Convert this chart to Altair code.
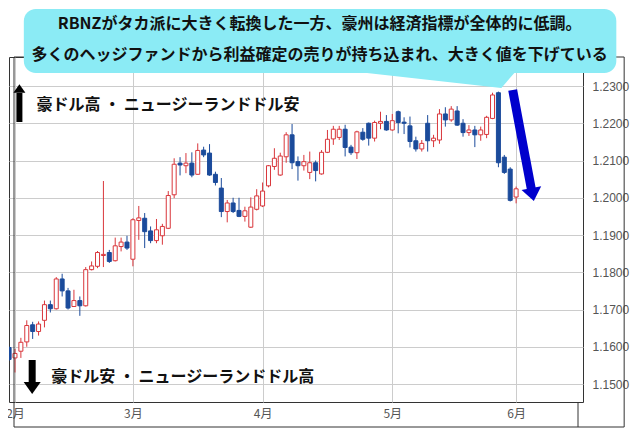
import altair as alt
import pandas as pd

# ---------------- data ----------------
opens = [1.1598, 1.1570, 1.1588, 1.1613, 1.1659, 1.1641, 1.1671, 1.1713, 1.1702, 1.1782,
         1.1750, 1.1708, 1.1724, 1.1710, 1.1807, 1.1816, 1.1845, 1.1853, 1.1831, 1.1869,
         1.1881, 1.1835, 1.1939, 1.1945, 1.1911, 1.1885, 1.1898, 1.1918, 1.2008, 1.2093,
         1.2086, 1.2093, 1.2063, 1.2128, 1.2120, 1.2063, 1.2026, 1.1963, 1.1986, 1.1966,
         1.1950, 1.1921, 1.1969, 1.1978, 1.2032, 1.2084, 1.2061, 1.2110, 1.2169, 1.2097,
         1.2086, 1.2068, 1.2094, 1.2064, 1.2122, 1.2158, 1.2162, 1.2184, 1.2136, 1.2121,
         1.2176, 1.2200, 1.2160, 1.2200, 1.2205, 1.2182, 1.2231, 1.2203, 1.2193, 1.2153,
         1.2131, 1.2200, 1.2153, 1.2155, 1.2225, 1.2209, 1.2233, 1.2200, 1.2175, 1.2182,
         1.2169, 1.2170, 1.2213, 1.2282, 1.2109, 1.2077, 1.2002]
highs = [1.1601, 1.1594, 1.1624, 1.1671, 1.1667, 1.1668, 1.1724, 1.1724, 1.1787, 1.1796,
         1.1758, 1.1753, 1.1735, 1.1814, 1.1829, 1.1857, 1.2045, 1.1860, 1.1893, 1.1893,
         1.1898, 1.1945, 1.1978, 1.1959, 1.1923, 1.1943, 1.1930, 1.2018, 1.2106, 1.2109,
         1.2120, 1.2122, 1.2146, 1.2137, 1.2144, 1.2070, 1.2053, 1.1994, 1.2000, 1.2000,
         1.1976, 1.2001, 1.2023, 1.2041, 1.2088, 1.2133, 1.2121, 1.2176, 1.2198, 1.2111,
         1.2115, 1.2124, 1.2100, 1.2128, 1.2182, 1.2193, 1.2193, 1.2196, 1.2142, 1.2180,
         1.2187, 1.2202, 1.2207, 1.2231, 1.2222, 1.2225, 1.2234, 1.2216, 1.2218, 1.2164,
         1.2155, 1.2222, 1.2169, 1.2238, 1.2243, 1.2246, 1.2246, 1.2211, 1.2195, 1.2193,
         1.2191, 1.2220, 1.2282, 1.2285, 1.2115, 1.2082, 1.2030]
lows = [1.1562, 1.1531, 1.1570, 1.1600, 1.1621, 1.1630, 1.1652, 1.1692, 1.1700, 1.1735,
        1.1700, 1.1707, 1.1683, 1.1708, 1.1805, 1.1811, 1.1814, 1.1825, 1.1829, 1.1856,
        1.1860, 1.1816, 1.1887, 1.1865, 1.1878, 1.1878, 1.1874, 1.1916, 1.1999, 1.2060,
        1.2066, 1.2055, 1.2062, 1.2109, 1.2059, 1.2033, 1.1948, 1.1934, 1.1959, 1.1948,
        1.1936, 1.1919, 1.1966, 1.1975, 1.2028, 1.2075, 1.2059, 1.2094, 1.2077, 1.2046,
        1.2073, 1.2050, 1.2044, 1.2062, 1.2120, 1.2142, 1.2155, 1.2111, 1.2115, 1.2104,
        1.2153, 1.2140, 1.2151, 1.2184, 1.2180, 1.2180, 1.2173, 1.2171, 1.2135, 1.2124,
        1.2124, 1.2124, 1.2136, 1.2145, 1.2191, 1.2204, 1.2193, 1.2164, 1.2166, 1.2136,
        1.2153, 1.2160, 1.2211, 1.2082, 1.2064, 1.1990, 1.1985]
closes = [1.1566, 1.1582, 1.1612, 1.1657, 1.1641, 1.1661, 1.1713, 1.1702, 1.1782, 1.1750,
          1.1704, 1.1724, 1.1710, 1.1807, 1.1817, 1.1853, 1.1848, 1.1829, 1.1871, 1.1881,
          1.1865, 1.1941, 1.1946, 1.1909, 1.1885, 1.1914, 1.1923, 1.2006, 1.2090, 1.2088,
          1.2093, 1.2061, 1.2127, 1.2115, 1.2061, 1.2041, 1.1963, 1.1986, 1.1963, 1.1950,
          1.1965, 1.1975, 1.2005, 1.2018, 1.2086, 1.2106, 1.2112, 1.2169, 1.2094, 1.2086,
          1.2097, 1.2094, 1.2073, 1.2122, 1.2157, 1.2184, 1.2184, 1.2135, 1.2121, 1.2177,
          1.2157, 1.2160, 1.2202, 1.2205, 1.2182, 1.2207, 1.2202, 1.2200, 1.2151, 1.2131,
          1.2146, 1.2153, 1.2160, 1.2225, 1.2209, 1.2238, 1.2195, 1.2175, 1.2182, 1.2169,
          1.2182, 1.2216, 1.2276, 1.2094, 1.2068, 1.1993, 1.2024]
session = list(range(1, len(opens) + 1))

month_sessions = [2, 22, 44, 66, 87]
month_labels = ["2月", "3月", "4月", "5月", "6月"]
price_ticks = [1.15, 1.16, 1.17, 1.18, 1.19, 1.20, 1.21, 1.22, 1.23]

title_lines = ["RBNZがタカ派に大きく転換した一方、豪州は経済指標が全体的に低調。",
               "多くのヘッジファンドから利益確定の売りが持ち込まれ、大きく値を下げている"]
up_label = "豪ドル高 ・ ニュージーランドドル安"
down_label = "豪ドル安 ・ ニュージーランドドル高"

# ---------------- scales / layout ----------------
X_DOMAIN = [11 / 6, 97.5]
Y_DOMAIN = [1.14517, 1.23779]
Y_FRAME_BOTTOM = 1.138456
X_FRAME_RIGHT = 105.33
RED = "#D9363B"
BLUE = "#1B4B9B"
ARROW_BLUE = "#0000CD"
CYAN = "#8BEBF5"
FONT_JP = "Noto Sans CJK JP"

xs = alt.Scale(domain=X_DOMAIN, nice=False, zero=False)
ys = alt.Scale(domain=Y_DOMAIN, nice=False, zero=False)

label_expr = " : ".join(f"datum.value == {v} ? '{t}'" for v, t in zip(month_sessions, month_labels)) + " : ''"

x_axis = alt.Axis(values=month_sessions, labelExpr=label_expr, grid=True, title=None,
                  labelFlush=False, labelFont=FONT_JP, labelFontSize=12, labelPadding=6,
                  labelColor="#555555", labelOverlap=False)
y_axis = alt.Axis(values=price_ticks, format=".4f", orient="right", grid=True, title=None,
                  labelFont="Liberation Sans", labelFontSize=12, labelPadding=9,
                  labelColor="#555555", labelOverlap=False)


def X(field):
    return alt.X(field, type="quantitative", scale=xs, axis=x_axis)


def Y(field):
    return alt.Y(field, type="quantitative", scale=ys, axis=y_axis)


df = pd.DataFrame({"i": session, "open": opens, "high": highs, "low": lows, "close": closes})
df["dir"] = ["up" if c >= o else "down" for o, c in zip(opens, closes)]
dir_color = alt.Scale(domain=["up", "down"], range=[RED, BLUE])

# outer frame (plot + axis bands), in data coordinates
frame_df = pd.DataFrame({"fx": [X_DOMAIN[0]], "fx2": [X_FRAME_RIGHT], "fy": [Y_DOMAIN[1]], "fy2": [Y_FRAME_BOTTOM]})
frame = alt.Chart(frame_df).mark_rect(fillOpacity=0, stroke="#333333", strokeWidth=1, clip=False).encode(
    x=X("fx"), x2="fx2", y=Y("fy"), y2="fy2")
sep_df = pd.DataFrame({"sx": [X_DOMAIN[1]], "sy": [Y_DOMAIN[0]], "sy2": [Y_FRAME_BOTTOM]})
sep = alt.Chart(sep_df).mark_rule(color="#333333", strokeWidth=1, clip=False).encode(
    x=X("sx"), y=Y("sy"), y2="sy2")

wicks = alt.Chart(df).mark_rule(strokeWidth=1, clip=True).encode(
    x=X("i"), y=Y("low"), y2="high",
    color=alt.Color("dir:N", scale=dir_color, legend=None))

bodies = alt.Chart(df).mark_bar(size=4, strokeWidth=1, clip=True).encode(
    x=X("i"), y=Y("open"), y2="close",
    fill=alt.condition("datum.dir == 'up'", alt.value("white"), alt.value(BLUE)),
    stroke=alt.Stroke("dir:N", scale=dir_color, legend=None))

# callout box
box_df = pd.DataFrame({"bx": [3.5], "bx2": [104.0], "by": [1.250671], "by2": [1.233490]})
box = alt.Chart(box_df).mark_rect(color=CYAN, cornerRadius=12, clip=False).encode(
    x=X("bx"), x2="bx2", y=Y("by"), y2="by2")
tail_df = pd.DataFrame({"tx": [58.67, 84.5, 87.0], "ty": [1.23403, 1.23403, 1.23403],
                        "ty2": [1.23403, 1.229463, 1.23403]})
tail = alt.Chart(tail_df).mark_area(color=CYAN, opacity=1, clip=False).encode(
    x=X("tx"), y=Y("ty"), y2="ty2")

title_df = pd.DataFrame({"t": title_lines, "px": [53.67, 53.67], "py": [1.246644, 1.238322]})
title_txt = alt.Chart(title_df).mark_text(font=FONT_JP, fontSize=16, fontWeight="bold",
                                          color="#111111", align="center", baseline="middle").encode(
    x=X("px"), y=Y("py"), text="t:N")

side_df = pd.DataFrame({"t": [up_label, down_label], "px": [5.667, 8.167], "py": [1.224899, 1.151879]})
side_txt = alt.Chart(side_df).mark_text(font=FONT_JP, fontSize=16, fontWeight="bold",
                                        color="#111111", align="left", baseline="middle").encode(
    x=X("px"), y=Y("py"), text="t:N")

# black arrows
up_shaft = alt.Chart(pd.DataFrame({"ax": [2.75], "ay": [1.228120], "ay2": [1.220336]})).mark_rule(
    color="black", strokeWidth=6, strokeCap="butt", clip=False).encode(
    x=X("ax"), y=Y("ay"), y2="ay2")
up_head = alt.Chart(pd.DataFrame({"ax": [2.75], "ay": [1.229329]})).mark_point(
    shape="M-1,0.7L1,0.7L0,-0.7Z", filled=True, size=144, color="black", opacity=1, clip=False).encode(
    x=X("ax"), y=Y("ay"))
dn_shaft = alt.Chart(pd.DataFrame({"ax": [4.917], "ay": [1.156443], "ay2": [1.150000]})).mark_rule(
    color="black", strokeWidth=7, strokeCap="butt").encode(
    x=X("ax"), y=Y("ay"), y2="ay2")
dn_head = alt.Chart(pd.DataFrame({"ax": [4.917], "ay": [1.148926]})).mark_point(
    shape="M-1,-0.7L1,-0.7L0,0.7Z", filled=True, size=289, color="black", opacity=1).encode(
    x=X("ax"), y=Y("ay"))

# blue arrow
bl_shaft = alt.Chart(pd.DataFrame({"ax": [86.42], "ax2": [89.58], "ay": [1.228926], "ay2": [1.202349]})).mark_rule(
    color=ARROW_BLUE, strokeWidth=9, strokeCap="butt").encode(
    x=X("ax"), x2="ax2", y=Y("ay"), y2="ay2")
bl_head = alt.Chart(pd.DataFrame({"ax": [89.8], "ay": [1.200877]})).mark_point(
    shape="M-1,-0.65L1,-0.65L0,0.65Z", filled=True, size=400, angle=349, color=ARROW_BLUE, opacity=1).encode(
    x=X("ax"), y=Y("ay"))

chart = alt.layer(
    wicks, bodies, frame, sep, tail, box, title_txt, side_txt,
    up_shaft, up_head, dn_shaft, dn_head, bl_shaft, bl_head
).properties(
    width=574, height=345,
    autosize=alt.AutoSizeParams(type="none"),
    padding={"left": 1, "top": 49, "right": 48, "bottom": 26},
    background="white",
).configure_view(
    stroke="#333333", strokeWidth=1
).configure_axis(
    domain=False, ticks=False, tickSize=0, gridColor="#cccccc", gridWidth=1
)

chart.save("out.html", embed_options={"renderer": "svg", "actions": False})
